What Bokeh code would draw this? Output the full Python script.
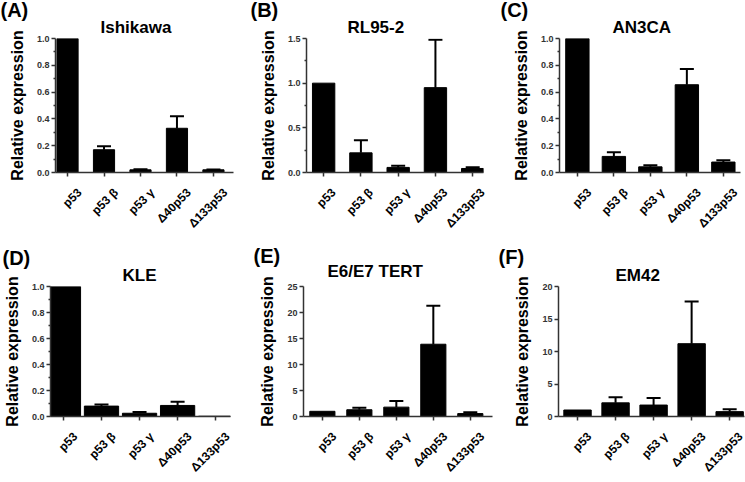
import math
from bokeh.plotting import figure
from bokeh.layouts import column, row
from bokeh.models import (ColumnDataSource, FixedTicker, Range1d, Whisker, TeeHead,
                          Title, LinearAxis, PrintfTickFormatter)
from bokeh.embed import file_html
from bokeh.resources import INLINE

# ---------------- data ----------------
categories = ["p53", "p53 β", "p53 γ", "Δ40p53", "Δ133p53"]
panel_letters = ["(A)", "(B)", "(C)", "(D)", "(E)", "(F)"]
cell_lines = ["Ishikawa", "RL95-2", "AN3CA", "KLE", "E6/E7 TERT", "EM42"]

ishikawa_mean = [1.0, 0.17, 0.02, 0.33, 0.02]
ishikawa_err = [0.0, 0.025, 0.005, 0.09, 0.003]
rl952_mean = [1.0, 0.22, 0.057, 0.95, 0.045]
rl952_err = [0.0, 0.14, 0.018, 0.535, 0.015]
an3ca_mean = [1.0, 0.12, 0.042, 0.655, 0.078]
an3ca_err = [0.0, 0.032, 0.013, 0.117, 0.014]
kle_mean = [1.0, 0.08, 0.025, 0.085, 0.002]
kle_err = [0.0, 0.012, 0.01, 0.029, 0.0]
tert_mean = [1.0, 1.3, 1.8, 13.9, 0.56]
tert_err = [0.0, 0.4, 1.2, 7.4, 0.24]
em42_mean = [1.0, 2.1, 1.76, 11.2, 0.75]
em42_err = [0.0, 0.86, 1.1, 6.5, 0.35]

ticks_frac = [0.0, 0.2, 0.4, 0.6, 0.8, 1.0]
minor_frac = [0.1, 0.3, 0.5, 0.7, 0.9]
ticks_rl = [0.0, 0.5, 1.0, 1.5]
minor_rl = [0.25, 0.75, 1.25]
ticks_tert = [0, 5, 10, 15, 20, 25]
ticks_em42 = [0, 5, 10, 15, 20]

means = [ishikawa_mean, rl952_mean, an3ca_mean, kle_mean, tert_mean, em42_mean]
errs = [ishikawa_err, rl952_err, an3ca_err, kle_err, tert_err, em42_err]
yticks = [ticks_frac, ticks_rl, ticks_frac, ticks_frac, ticks_tert, ticks_em42]
yminor = [minor_frac, minor_rl, minor_frac, minor_frac, [], []]
yfmt = ["%.1f", "%.1f", "%.1f", "%.1f", "%d", "%d"]

# ---------------- layout (positions / styles) ----------------
FONT = "Liberation Sans"
# w,h: figure size; bl/br/bt/bb: borders; xr: x range; bw: bar width;
# to/ts: title left offset (px from frame left) and standoff,
# lo/ls: panel letter offset and standoff,
# sh: horizontal shift (px) of the rotated category labels
layout_specs = [
    dict(w=245, h=238, bl=55, br=12, bt=38, bb=66, xr=(-0.33, 4.55), bw=0.58, to=45, ts=4, lo=-55, ls=-14, sh=12),
    dict(w=250, h=238, bl=61, br=12, bt=38, bb=66, xr=(-0.46, 4.29), bw=0.60, to=41, ts=4, lo=-56, ls=-14, sh=10),
    dict(w=250, h=238, bl=64, br=5, bt=38, bb=66, xr=(-0.49, 4.47), bw=0.64, to=53, ts=4, lo=-59, ls=-14, sh=12),
    dict(w=245, h=244, bl=50, br=15, bt=48, bb=66, xr=(-0.34, 4.39), bw=0.90, to=72, ts=4, lo=-48, ls=-15, sh=12),
    dict(w=250, h=244, bl=58, br=3, bt=48, bb=66, xr=(-0.51, 4.60), bw=0.68, to=24, ts=12, lo=-50, ls=-26, sh=12),
    dict(w=250, h=244, bl=63, br=1, bt=48, bb=66, xr=(-0.50, 4.39), bw=0.72, to=57, ts=4, lo=-60, ls=-12, sh=12),
]
AXIS_COLOR = "#333333"


def make_panel(i):
    s = layout_specs[i]
    mean, err = means[i], errs[i]
    xs = list(range(len(categories)))
    ymax = yticks[i][-1]
    x0, x1 = s["xr"]
    p = figure(width=s["w"], height=s["h"], output_backend="svg", toolbar_location=None,
               title=None, x_range=Range1d(x0, x1), y_range=Range1d(0, ymax),
               min_border_left=s["bl"], min_border_right=s["br"],
               min_border_top=s["bt"], min_border_bottom=s["bb"])
    p.outline_line_color = None
    p.xgrid.visible = False
    p.ygrid.visible = False

    frame_w = s["w"] - s["bl"] - s["br"]
    dx = s["sh"] * (x1 - x0) / frame_w
    p.extra_x_ranges = {"lab": Range1d(x0 - dx, x1 - dx)}

    src = ColumnDataSource(dict(x=xs, top=mean))
    p.vbar(x="x", top="top", width=s["bw"], bottom=0, source=src,
           fill_color="black", line_color="black", line_width=1)

    ex = [x for x, e in zip(xs, err) if e > 0]
    elo = [m for m, e in zip(mean, err) if e > 0]
    ehi = [m + e for m, e in zip(mean, err) if e > 0]
    esrc = ColumnDataSource(dict(x=ex, lower=elo, upper=ehi))
    w = Whisker(base="x", lower="lower", upper="upper", source=esrc, level="overlay",
                upper_head=TeeHead(size=14, line_width=2, line_color="black"),
                lower_head=None, line_width=2, line_color="black")
    p.add_layout(w)

    # y axis
    ya = p.yaxis[0]
    ya.ticker = FixedTicker(ticks=yticks[i], minor_ticks=yminor[i])
    ya.formatter = PrintfTickFormatter(format=yfmt[i])
    ya.axis_label = "Relative expression"
    ya.axis_label_text_font = FONT
    ya.axis_label_text_font_style = "bold"
    ya.axis_label_text_font_size = "16px"
    ya.axis_label_text_color = "black"
    ya.axis_label_standoff = 8
    ya.major_label_text_font = FONT
    ya.major_label_text_font_style = "bold"
    ya.major_label_text_font_size = "9px"
    ya.major_label_text_color = AXIS_COLOR
    ya.major_label_standoff = 2
    ya.axis_line_color = AXIS_COLOR
    ya.axis_line_width = 1.5
    ya.major_tick_line_color = AXIS_COLOR
    ya.major_tick_line_width = 1.5
    ya.major_tick_in = 0
    ya.major_tick_out = 4
    ya.minor_tick_line_color = AXIS_COLOR
    ya.minor_tick_line_width = 1.5
    ya.minor_tick_in = 0
    ya.minor_tick_out = 2

    # x axis: line + ticks
    xa = p.xaxis[0]
    xa.ticker = FixedTicker(ticks=xs, minor_ticks=[])
    xa.major_label_overrides = {x: "" for x in xs}
    xa.major_label_text_font_size = "0px"
    xa.major_label_standoff = 0
    xa.axis_line_color = AXIS_COLOR
    xa.axis_line_width = 1.5
    xa.major_tick_line_color = AXIS_COLOR
    xa.major_tick_line_width = 1.5
    xa.major_tick_in = 0
    xa.major_tick_out = 4
    xa.minor_tick_line_color = None

    # x axis: rotated category labels
    la = LinearAxis(x_range_name="lab", ticker=FixedTicker(ticks=xs, minor_ticks=[]),
                    major_label_overrides={x: c for x, c in zip(xs, categories)},
                    major_label_orientation=math.pi / 4,
                    major_label_text_font=FONT, major_label_text_font_style="bold",
                    major_label_text_font_size="12px", major_label_text_color="black",
                    major_label_standoff=14, axis_line_color=None,
                    major_tick_line_color=None, minor_tick_line_color=None,
                    major_tick_in=0, major_tick_out=0, minor_tick_in=0, minor_tick_out=0)
    p.add_layout(la, "below")

    p.add_layout(Title(text=cell_lines[i], align="left", offset=s["to"], standoff=s["ts"],
                       text_font=FONT, text_font_style="bold", text_font_size="17px",
                       text_color="black"), "above")
    p.add_layout(Title(text=panel_letters[i], align="left", offset=s["lo"], standoff=s["ls"],
                       text_font=FONT, text_font_style="bold", text_font_size="20px",
                       text_color="black"), "above")
    return p


panels = [make_panel(i) for i in range(6)]
layout = column(row(*panels[:3]), row(*panels[3:]))

open("out.html", "w").write(file_html(layout, INLINE))
